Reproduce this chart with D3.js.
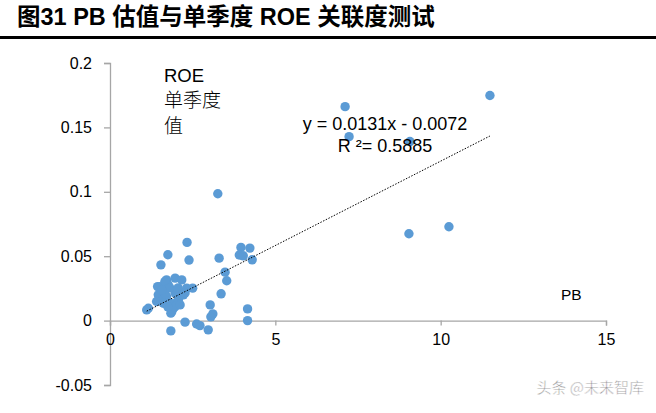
<!DOCTYPE html>
<html><head><meta charset="utf-8">
<script src="https://cdn.jsdelivr.net/npm/d3@7"></script>
<style>
body{margin:0;background:#fff;}
svg{display:block;}
</style></head>
<body>
<svg id="c" width="656" height="413"></svg>
<script>
const titleText = "图31 PB 估值与单季度 ROE 关联度测试";
const pbValues = [11.49,7.11,7.23,9.07,9.04,10.25,3.26,2.33,1.75,1.54,2.39,3.30,3.96,4.23,3.91,4.03,4.30,3.48,3.53,3.36,3.03,3.11,3.05,4.16,4.16,2.27,2.62,2.72,2.97,1.84,2.50,1.16,1.11,1.87,1.92,1.71,1.97,2.17,1.51,1.76,2.32,1.46,1.66,1.97,2.22,1.41,1.61,1.87,2.07,1.92,1.84,1.44,1.66,2.02,1.71,1.61,1.97,1.81,2.06,1.57,2.12,1.75,2.27];
const roeValues = [0.1748,0.1661,0.1428,0.1390,0.0674,0.0729,0.0985,0.0607,0.0511,0.0433,0.0470,0.0485,0.0568,0.0563,0.0509,0.0503,0.0472,0.0376,0.0309,0.0208,0.0122,0.0052,0.0029,0.0091,0.0,-0.0012,-0.0026,-0.0039,-0.0072,-0.0080,0.0252,0.0096,0.0083,0.0070,0.0122,0.0316,0.0330,0.0316,0.0264,0.0278,0.0252,0.0200,0.0213,0.0213,0.0200,0.0148,0.0161,0.0135,0.0161,0.0096,0.0058,0.0264,0.0303,0.0213,0.0187,0.0135,0.0109,0.0254,0.0254,0.0239,0.0122,0.0107,0.0215];
const xTicks = [0,5,10,15];
const yTicks = [-0.05,0,0.05,0.1,0.15,0.2];
const yTickLabels = ["-0.05","0","0.05","0.1","0.15","0.2"];
const trendSlope = 0.0131, trendIntercept = -0.0072;
const eqLabel = "y = 0.0131x - 0.0072";
const r2Label = "R ²= 0.5885";
const yTitle = ["ROE","单季度","值"];
const xTitle = "PB";
const watermark = "头条 @未来智库";

const svg = d3.select("#c");
const x = d3.scaleLinear().domain([0,15]).range([110,606]);
const y = d3.scaleLinear().domain([-0.05,0.2]).range([385,63]);
const axisColor = "#a6a6a6";
const numFont = "'Liberation Sans', Arial, sans-serif";

// title
svg.append("text").attr("x",17).attr("y",25)
  .attr("font-family","'Liberation Sans', Arial, 'Noto Sans CJK SC', sans-serif")
  .attr("font-weight","bold").attr("font-size",23.5).attr("fill","#000")
  .text(titleText);
svg.append("rect").attr("x",0).attr("y",36).attr("width",656).attr("height",3).attr("fill","#000");

// y axis
const yAxis = d3.axisLeft(y).tickValues(yTicks).tickSize(6).tickPadding(12)
  .tickFormat((d,i)=>yTickLabels[i]);
const gy = svg.append("g").attr("transform",`translate(${x(0)},0)`).call(yAxis);
gy.select(".domain").attr("stroke",axisColor).attr("stroke-width",1.3);
gy.selectAll(".tick line").attr("stroke",axisColor).attr("stroke-width",1.3);
gy.selectAll(".tick text").attr("font-family",numFont).attr("font-size",16).attr("fill","#000");

// x axis at y=0
const xAxis = d3.axisBottom(x).tickValues(xTicks).tickSize(5).tickPadding(8).tickSizeOuter(5);
const gx = svg.append("g").attr("transform",`translate(0,${y(0)})`).call(xAxis);
gx.select(".domain").attr("stroke",axisColor).attr("stroke-width",1.3);
gx.selectAll(".tick line").attr("stroke",axisColor).attr("stroke-width",1.3);
gx.selectAll(".tick text").attr("font-family",numFont).attr("font-size",16).attr("fill","#000");

// points
const pts = pbValues.map((v,i)=>({x:v,y:roeValues[i]}));
svg.append("g").selectAll("circle").data(pts).join("circle")
  .attr("cx",d=>x(d.x)).attr("cy",d=>y(d.y)).attr("r",4.7)
  .attr("fill","#5b9bd5");

// trendline
const xMin = d3.min(pbValues), xMax = d3.max(pbValues);
svg.append("line")
  .attr("x1",x(xMin)).attr("y1",y(trendSlope*xMin+trendIntercept))
  .attr("x2",x(xMax)).attr("y2",y(trendSlope*xMax+trendIntercept))
  .attr("stroke","#000").attr("stroke-width",1).attr("stroke-dasharray","1.5,1.5");

// equation labels
svg.append("text").attr("x",385).attr("y",130).attr("text-anchor","middle")
  .attr("font-family",numFont).attr("font-size",18).attr("fill","#000").text(eqLabel);
svg.append("text").attr("x",385).attr("y",152).attr("text-anchor","middle")
  .attr("font-family",numFont).attr("font-size",18).attr("fill","#000").text(r2Label);

// axis titles
svg.append("text").attr("x",164).attr("y",82).attr("font-family",numFont)
  .attr("font-size",18.5).attr("fill","#000").text(yTitle[0]);
svg.append("text").attr("x",164).attr("y",107).attr("font-family","'Noto Sans CJK SC', sans-serif")
  .attr("font-weight",300).attr("font-size",19).attr("fill","#000").text(yTitle[1]);
svg.append("text").attr("x",164).attr("y",133).attr("font-family","'Noto Sans CJK SC', sans-serif")
  .attr("font-weight",300).attr("font-size",19).attr("fill","#000").text(yTitle[2]);
svg.append("text").attr("x",561).attr("y",300).attr("font-family","'Liberation Sans', Arial, sans-serif")
  .attr("font-size",15.5).attr("fill","#000").text(xTitle);

// watermark
svg.append("text").attr("x",644).attr("y",393).attr("text-anchor","end")
  .attr("font-family","'Noto Sans CJK SC', sans-serif").attr("font-size",15)
  .attr("fill","#777").attr("stroke","#fff").attr("stroke-width",0.5).attr("opacity",0.85)
  .text(watermark);
</script>
</body></html>
